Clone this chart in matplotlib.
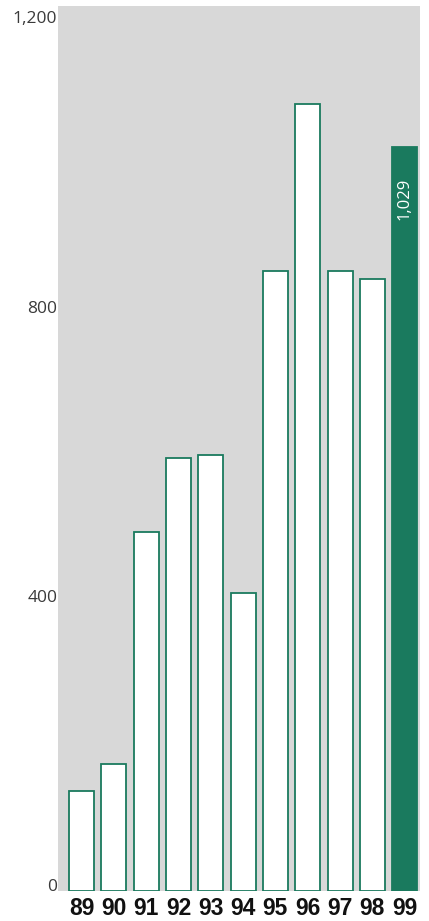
import matplotlib.pyplot as plt

# dados
anos = ["89", "90", "91", "92", "93", "94", "95", "96", "97", "98", "99"]
valores = [138, 175, 496, 599, 603, 412, 857, 1089, 857, 846, 1029]
yticks = [0, 400, 800, 1200]
ytick_labels = ["0", "400", "800", "1,200"]

verde = "#1a7a5e"
cinza = "#d8d8d8"

fig = plt.figure(figsize=(4.29, 9.21), dpi=100)
ax = fig.add_axes([58 / 429, 1 - 891 / 921, 362 / 429, 885 / 921])
ax.set_facecolor(cinza)

x = list(range(len(anos)))
cores = ["white"] * (len(anos) - 1) + [verde]
ax.bar(x, valores, width=0.77, color=cores, edgecolor=verde, linewidth=1.3)

ax.set_xlim(-0.73, 10.47)
ax.set_ylim(0, 1224)

for s in ax.spines.values():
    s.set_visible(False)
ax.set_xticks([])
ax.set_yticks([])

# rotulos eixo y
for v, lab in zip(yticks, ytick_labels):
    ax.text(-0.75, v, lab, ha="right", va="baseline", fontsize=12.5,
            color="#3a3a3a", family="Open Sans", clip_on=False)

# rotulos eixo x
for i, a in enumerate(anos):
    fig.text((81.5 + i * 32.3) / 429, 1 - 908 / 921, a, ha="center", va="center",
             fontsize=16.5, fontweight="bold", color="#111111",
             family="Liberation Sans")

# valor ultima barra
ax.text(x[-1], valores[-1] - 42, "{:,}".format(valores[-1]), rotation=90,
        ha="center", va="top", color="white", fontsize=12, family="Open Sans")

plt.savefig("out.png", dpi=100)
